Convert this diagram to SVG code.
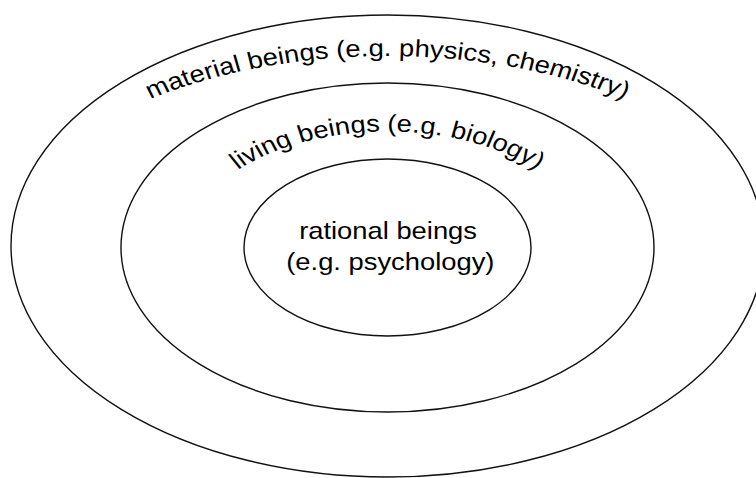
<svg xmlns="http://www.w3.org/2000/svg" xmlns:xlink="http://www.w3.org/1999/xlink" width="756" height="478" viewBox="0 0 756 478">
  <style>
    .ring { fill: none; stroke: #111; stroke-width: 1.4; }
    .lbl { font-family: "Liberation Sans", Arial, sans-serif; font-size: 24px; fill: #000; }
  </style>
  <defs>
    <path id="outerPath" d="M 59.8,246 A 327.7,190 0 0,1 715.2,246"/>
    <path id="middlePath" d="M 211.2,247.5 A 176.3,116 0 0,1 563.8,247.5"/>
  </defs>
  <rect width="756" height="478" fill="#fff"/>
  <g id="material">
    <ellipse class="ring" cx="387.5" cy="246" rx="376.5" ry="231"/>
    <g transform="translate(-54.25,0) scale(1.14,1)">
      <text class="lbl" text-anchor="middle"><textPath xlink:href="#outerPath" href="#outerPath" startOffset="50%">material beings (e.g. physics, chemistry)</textPath></text>
    </g>
  </g>
  <g id="living">
    <ellipse class="ring" cx="387.5" cy="247.5" rx="266.5" ry="164.5"/>
    <g transform="translate(-54.25,0) scale(1.14,1)">
      <text class="lbl" text-anchor="middle"><textPath xlink:href="#middlePath" href="#middlePath" startOffset="50%">living beings (e.g. biology)</textPath></text>
    </g>
  </g>
  <g id="rational">
    <ellipse class="ring" cx="387.5" cy="247.5" rx="143.5" ry="88.5"/>
    <g transform="translate(-54.25,0) scale(1.14,1)">
      <text class="lbl" text-anchor="middle" x="388" y="239">rational beings</text>
      <text class="lbl" text-anchor="middle" x="390" y="270">(e.g. psychology)</text>
    </g>
  </g>
</svg>
